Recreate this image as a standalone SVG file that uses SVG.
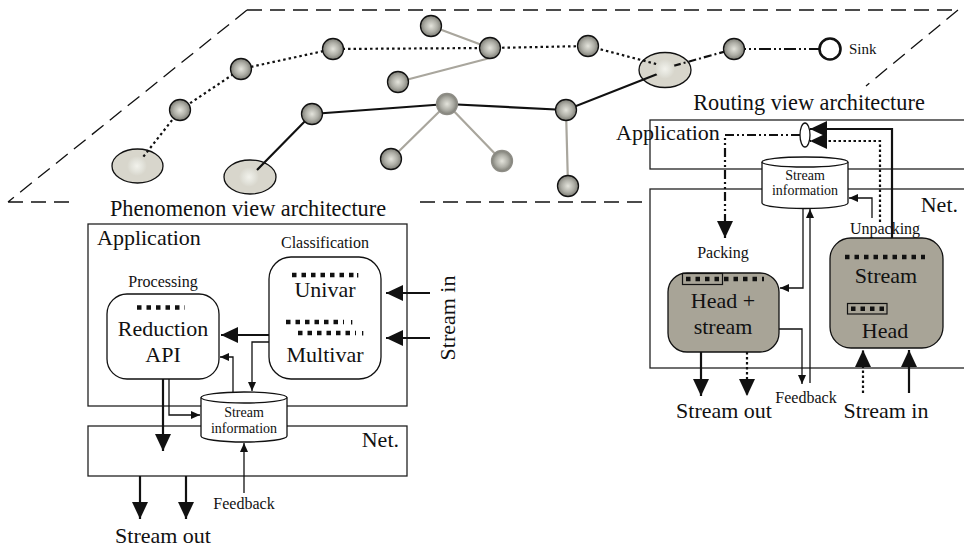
<svg xmlns="http://www.w3.org/2000/svg" width="964" height="549" viewBox="0 0 964 549">
<defs>
<style>
text{font-family:"Liberation Serif","Times New Roman",serif;fill:#111}
.t{font-size:22.3px}
.b{font-size:22px}
.s{font-size:16px}
.c{font-size:14px}
.box{fill:none;stroke:#222;stroke-width:1.3}
.rb{fill:#fff;stroke:#111;stroke-width:1.3}
.gb{fill:#a8a497;stroke:#111;stroke-width:1.3}
.dots{fill:none;stroke:#111;stroke-width:4.5;stroke-dasharray:4.5 5}
.ln{fill:none;stroke:#111;stroke-width:1.3}
.bl{fill:none;stroke:#111;stroke-width:2.2}
.dt{stroke-dasharray:2.5 2.5}
.net-dot{fill:none;stroke:#111;stroke-width:2.2;stroke-dasharray:2.5 3}
.net-sol{fill:none;stroke:#111;stroke-width:2.2}
.net-gray{fill:none;stroke:#a9a69d;stroke-width:2.2}
.node{fill:url(#ng);stroke:#111;stroke-width:1.3}
.nodel{fill:url(#ng);stroke:#8e8d86;stroke-width:1.3}
.ell{fill:#d8d6cc;stroke:#111;stroke-width:1.3}
.glow{fill:url(#gg);stroke:none}
.cyl{fill:#fff;stroke:#111;stroke-width:1.3}
</style>
<radialGradient id="ng" cx="50%" cy="50%" r="50%">
<stop offset="0" stop-color="#e4e4dc"/>
<stop offset="0.6" stop-color="#aeaea6"/>
<stop offset="1" stop-color="#7c7c74"/>
</radialGradient>
<radialGradient id="gg" cx="50%" cy="50%" r="50%">
<stop offset="0" stop-color="#f2f2ec"/>
<stop offset="0.6" stop-color="#e2e2da"/>
<stop offset="1" stop-color="#d8d6cc"/>
</radialGradient>
<marker id="big" markerUnits="userSpaceOnUse" markerWidth="17" markerHeight="16" refX="17" refY="8" orient="auto">
<path d="M0,0 L17,8 L0,16 Z" fill="#111" stroke="none"/>
</marker>
<marker id="sm" markerUnits="userSpaceOnUse" markerWidth="9" markerHeight="8" refX="9" refY="4" orient="auto">
<path d="M0,0 L9,4 L0,8 Z" fill="#111" stroke="none"/>
</marker>
</defs>

<g id="boundary">
<path d="M247,10 H958 M247,10 L8,202 M8,202 H73 M420,202 H646 M958,10 L866,86" fill="none" stroke="#111" stroke-width="1.3" stroke-dasharray="15 8"/>
</g>

<g id="network-links">
<g id="ellipses">
<ellipse class="ell" cx="137.5" cy="166" rx="25.5" ry="17"/>
<ellipse class="ell" cx="250" cy="177" rx="26" ry="17"/>
<ellipse class="ell" cx="665" cy="70" rx="26" ry="17.5"/>
</g>
<path class="net-dot" d="M140,161 L180,110 L241,69 L333,49 L490,48 L588,46 L660,65"/>
<path class="net-sol" d="M257,170 L312,114 L447,104 L566,110 L660,73"/>
<path class="net-gray" d="M431,26 L490,48 M398,82 L490,58 M447,104 L391,159 M447,104 L502,161 M566,110 L568,186"/>
<path fill="none" stroke="#111" stroke-width="2.2" stroke-dasharray="8 3 2 3" d="M673,66 L734,49"/>
<path fill="none" stroke="#111" stroke-width="2.2" stroke-dasharray="12 3 2 3 2 3" d="M734,49 L819,49"/>
<circle class="glow" cx="137" cy="166" r="10"/>
<circle class="glow" cx="249" cy="177" r="10"/>
<circle class="glow" cx="665" cy="69" r="10"/>
</g>

<g id="nodes">
<circle id="n1" class="node" cx="431" cy="26" r="10.5"/>
<circle id="n2" class="node" cx="490" cy="48" r="10.5"/>
<circle id="n3" class="node" cx="588" cy="46" r="10.5"/>
<circle id="n4" class="node" cx="398" cy="82" r="10.5"/>
<circle id="n5" class="nodel" cx="447" cy="104" r="10.5"/>
<circle id="n6" class="node" cx="566" cy="110" r="10.5"/>
<circle id="n7" class="node" cx="391" cy="159" r="10.5"/>
<circle id="n8" class="nodel" cx="502" cy="161" r="10.5"/>
<circle id="n9" class="node" cx="568" cy="186" r="10.5"/>
<circle id="n10" class="node" cx="333" cy="49" r="10.5"/>
<circle id="n11" class="node" cx="241" cy="69" r="10.5"/>
<circle id="n12" class="node" cx="180" cy="110" r="10.5"/>
<circle id="n13" class="node" cx="312" cy="114" r="10.5"/>
<circle id="n14" class="node" cx="734" cy="49" r="10.5"/>
<g id="sink">
<circle cx="830" cy="49" r="10.5" fill="#fff" stroke="#111" stroke-width="2.6"/>
<text x="849" y="54" style="font-size:15px">Sink</text>
</g>
</g>

<g id="phenomenon">
<text class="t" x="248" y="216" text-anchor="middle">Phenomenon view architecture</text>
<g id="p-app">
<rect class="box" x="88" y="224" width="319" height="182"/>
<text class="b" x="97" y="245">Application</text>
</g>
<g id="p-net">
<rect class="box" x="88" y="426" width="319" height="50"/>
<text class="b" x="399" y="447" text-anchor="end">Net.</text>
</g>
<g id="p-class">
<text class="s" x="325" y="248" text-anchor="middle">Classification</text>
<rect class="rb" x="269" y="257" width="112" height="122" rx="22"/>
<path class="dots" d="M292,275 H356"/>
<rect x="357" y="273" width="1.3" height="4.5" fill="#111"/>
<text class="b" x="325" y="297" text-anchor="middle">Univar</text>
<path class="dots" d="M286,322 H344"/>
<rect x="351" y="320" width="1.3" height="4.5" fill="#111"/>
<path class="dots" d="M298,333 H356"/>
<rect x="362" y="331" width="1.3" height="4.5" fill="#111"/>
<text class="b" x="325" y="362" text-anchor="middle">Multivar</text>
</g>
<g id="p-proc">
<text class="s" x="163" y="287" text-anchor="middle">Processing</text>
<rect class="rb" x="107" y="294" width="112" height="85" rx="20"/>
<path class="dots" d="M137,307.5 H185"/>
<text class="b" x="163" y="336" text-anchor="middle">Reduction</text>
<text class="b" x="163" y="362" text-anchor="middle">API</text>
</g>
<g id="p-cyl">
<path class="cyl" d="M201,397.5 V436 A43,6 0 0 0 287,436 V397.5"/>
<ellipse class="cyl" cx="244" cy="397.5" rx="43" ry="5.5"/>
<text class="c" x="244" y="417" text-anchor="middle">Stream</text>
<text class="c" x="244" y="433" text-anchor="middle">information</text>
</g>
<text class="b" x="455" y="318" text-anchor="middle" transform="rotate(-90 455 318)">Stream in</text>
<text class="s" x="244" y="509" text-anchor="middle">Feedback</text>
<text class="b" x="163" y="543" text-anchor="middle">Stream out</text>
</g>

<g id="routing">
<text class="t" x="809" y="110" text-anchor="middle">Routing view architecture</text>
<g id="r-app">
<rect class="box" x="650" y="120" width="330" height="49"/>
<text class="b" x="616" y="140">Application</text>
</g>
<g id="r-net">
<rect class="box" x="650" y="189" width="330" height="179"/>
<text class="b" x="958" y="212" text-anchor="end">Net.</text>
</g>
<g id="r-cyl">
<path class="cyl" d="M762,162 V203 A43,5.5 0 0 0 848,203 V162"/>
<ellipse class="cyl" cx="805" cy="162" rx="43" ry="5"/>
<text class="c" x="805" y="180" text-anchor="middle">Stream</text>
<text class="c" x="805" y="195" text-anchor="middle">information</text>
</g>
<g id="r-pack">
<text class="s" x="723" y="258" text-anchor="middle">Packing</text>
<rect class="gb" x="668" y="273" width="111" height="79" rx="19"/>
<rect x="682.5" y="273.5" width="40" height="11" fill="none" stroke="#111" stroke-width="1.2"/>
<path class="dots" d="M686,279 H764"/>
<text class="b" x="723" y="308" text-anchor="middle">Head +</text>
<text class="b" x="723" y="334" text-anchor="middle">stream</text>
</g>
<g id="r-unpack">
<text class="s" x="885" y="234" text-anchor="middle">Unpacking</text>
<rect class="gb" x="830" y="238" width="113" height="110" rx="21"/>
<path class="dots" d="M845,257 H925"/>
<text class="b" x="886" y="283" text-anchor="middle">Stream</text>
<rect x="847.5" y="303.5" width="39.5" height="10.5" fill="none" stroke="#111" stroke-width="1.2"/>
<path class="dots" d="M851,308.75 H885"/>
<text class="b" x="885" y="338" text-anchor="middle">Head</text>
</g>
<text class="s" x="806" y="403" text-anchor="middle">Feedback</text>
<text class="b" x="724" y="418" text-anchor="middle">Stream out</text>
<text class="b" x="886" y="418" text-anchor="middle">Stream in</text>
</g>

<g id="connectors">
<path class="bl" d="M430,293 H386" marker-end="url(#big)"/>
<path class="bl" d="M430,338 H386" marker-end="url(#big)"/>
<path class="bl" d="M269,335 H221" marker-end="url(#big)"/>
<path class="ln" d="M233,392 V357 H220" marker-end="url(#sm)"/>
<path class="ln" d="M269,342 H252 V391" marker-end="url(#sm)"/>
<path class="ln" d="M169,379 V415 H200" marker-end="url(#sm)"/>
<path class="bl" d="M163,379 V451" marker-end="url(#big)"/>
<path class="ln" d="M244,493 V443" marker-end="url(#sm)"/>
<path class="bl" d="M140,476 V519" marker-end="url(#big)"/>
<path class="bl" d="M186,476 V519" marker-end="url(#big)"/>

<path class="bl" d="M892,238 V129 H810" marker-end="url(#big)"/>
<path class="bl dt" d="M880,222 V141 H810" marker-end="url(#big)"/>
<path fill="none" stroke="#111" stroke-width="2.2" stroke-dasharray="9 3 2 3 2 3" d="M800,135 H725 V238" marker-end="url(#big)"/>
<ellipse cx="805" cy="135" rx="5" ry="12" fill="#fff" stroke="#111" stroke-width="1.3"/>
<path class="ln" d="M872,218 V198 H849" marker-end="url(#sm)"/>
<path class="ln" d="M803,208 V288 H780" marker-end="url(#sm)"/>
<path class="ln" d="M810,383 V209" marker-end="url(#sm)"/>
<path class="ln" d="M779,329 H802 V384" marker-end="url(#sm)"/>
<path class="bl" d="M701,352 V396" marker-end="url(#big)"/>
<path class="bl dt" d="M747,352 V396" marker-end="url(#big)"/>
<path class="bl dt" d="M863,393 V350" marker-end="url(#big)"/>
<path class="bl" d="M909,393 V350" marker-end="url(#big)"/>
</g>
</svg>
